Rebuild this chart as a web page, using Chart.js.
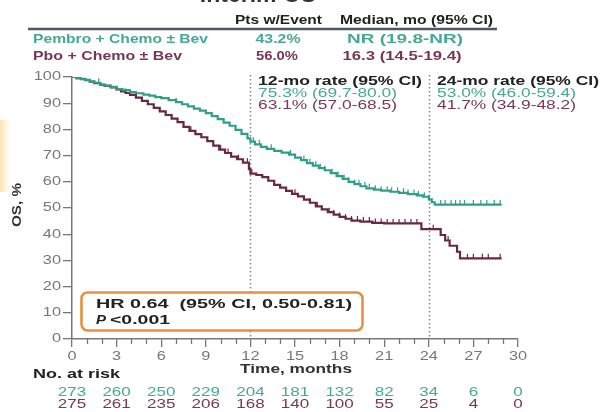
<!DOCTYPE html>
<html><head><meta charset="utf-8">
<script src="https://cdn.jsdelivr.net/npm/chart.js@4/dist/chart.umd.min.js"></script>
<style>html,body{margin:0;padding:0;background:#fff}canvas{display:block}</style>
</head><body>
<canvas id="c" width="601" height="412"></canvas>
<script>
// ---- Data ----
const pembroTimes = [0,0.3,0.6,0.9,1.2,1.5,1.9,2.2,2.6,3.0,3.4,3.9,4.3,4.8,5.2,5.6,6.0,6.5,7.0,7.4,7.8,8.2,8.6,9.0,9.4,9.8,10.2,10.6,11.0,11.4,11.8,12.0,12.3,12.7,13.1,13.6,14.1,14.6,15.0,15.4,15.8,16.2,16.6,17.0,17.4,17.8,18.2,18.6,19.0,19.4,19.8,20.3,20.8,21.4,22.0,22.6,23.2,23.6,24.0,24.2,24.4,28.9];
const pembroSurv  = [100,99.6,99.3,98.9,98.2,97.8,97.1,96.7,96.2,95.4,95.0,94.2,93.8,93.3,92.9,92.3,91.9,91.2,90.4,89.6,88.8,87.9,87.2,86.2,85.1,83.9,82.6,81.4,79.8,78.3,76.6,75.3,74.3,73.3,72.6,71.8,71.1,70.4,69.2,68.3,67.1,66.2,65.2,64.4,63.3,62.2,61.1,60.0,59.1,58.3,57.5,57.0,56.6,56.2,55.8,55.3,54.8,54.3,53.3,52.2,51.3,51.3];
const pboTimes = [0,0.3,0.6,0.9,1.2,1.5,1.9,2.2,2.6,3.0,3.3,3.6,3.9,4.3,4.7,5.1,5.5,5.9,6.3,6.7,7.1,7.5,7.9,8.3,8.7,9.1,9.5,9.9,10.3,10.7,11.1,11.5,11.9,12.0,12.4,12.8,13.2,13.6,14.0,14.4,14.8,15.2,15.6,16.0,16.4,16.8,17.2,17.6,18.0,18.4,18.8,19.4,20.2,21.0,23.5,24.8,25.1,25.4,25.9,26.1,28.9];
const pboSurv  = [100,99.6,99.2,98.8,98.2,97.7,97.0,96.6,96.0,95.3,94.5,93.9,93.2,92.1,90.9,89.6,88.2,86.9,85.5,84.1,82.8,81.0,79.4,78.2,77.0,75.5,73.8,72.3,71.0,69.6,68.6,67.3,64.8,63.1,62.6,61.8,60.4,58.8,57.8,56.5,55.4,54.4,53.2,52.0,50.6,49.5,48.4,47.5,46.6,45.9,45.2,44.8,44.3,44.1,41.9,39.7,37.6,35.6,33.3,30.8,30.8];
const pembroCensored = [1.8,7.0,12.2,12.6,13.4,14.7,15.6,16.0,16.4,16.7,17.0,17.5,17.9,18.3,18.6,19.0,19.3,19.7,20.0,20.4,20.8,21.2,21.5,21.9,22.3,22.6,23.0,23.3,23.7,24.0,24.8,25.1,25.5,25.8,26.1,26.4,27.0,27.5,27.9,28.4,28.8];
const pboCensored = [3.6,8.0,10.0,10.5,11.2,11.8,12.1,15.0,16.0,16.5,17.3,17.6,18.0,18.4,18.8,19.2,19.6,20.0,20.4,20.8,21.2,21.6,22.0,22.4,22.8,23.2,24.3,25.3,26.6,27.0,27.6,28.0,28.8];
const xTickValues = [0,3,6,9,12,15,18,21,24,27,30];
const yTickValues = [0,10,20,30,40,50,60,70,80,90,100];
const riskPembro = [273,260,250,229,204,181,132,82,34,6,0];
const riskPbo    = [275,261,235,206,168,140,100,55,25,4,0];
const rate12 = ['75.3% (69.7-80.0)','63.1% (57.0-68.5)'];
const rate24 = ['53.0% (46.0-59.4)','41.7% (34.9-48.2)'];
const legendRows = [
  ['Pembro + Chemo \u00b1 Bev','43.2%','NR (19.8-NR)'],
  ['Pbo + Chemo \u00b1 Bev','56.0%','16.3 (14.5-19.4)']
];

const TEAL = '#2f9e8c', MAROON = '#6a2744';
const TEAL_T = '#45a898', MAROON_T = '#7a3656';
const FONT = '"Liberation Sans", Arial, sans-serif';
const SX = 1.36; // horizontal stretch of the reference's lettering

function survAt(T, S, t){ let v = S[0]; for (let i=0;i<T.length;i++){ if (T[i] <= t) v = S[i]; } return v; }
const pts = (T,S) => T.map((t,i)=>({x:t,y:S[i]}));

// draw text stretched horizontally; if w given, fit to that width
function txt(ctx, s, x, y, font, color, align, w){
  ctx.save();
  ctx.font = font; ctx.fillStyle = color; ctx.textAlign = align || 'left'; ctx.textBaseline = 'middle';
  const sx = w ? w / ctx.measureText(s).width : SX;
  ctx.translate(x, y); ctx.scale(sx, 1); ctx.fillText(s, 0, 0);
  ctx.restore();
}

const overlay = {
  id:'overlay',
  beforeDatasetsDraw(chart){
    const {ctx, scales:{x,y}} = chart;
    ctx.save();
    const g = ctx.createLinearGradient(0,0,10,0);
    g.addColorStop(0,'rgba(250,210,120,0.6)'); g.addColorStop(1,'rgba(250,215,140,0)');
    ctx.fillStyle = g; ctx.fillRect(0,120,10,72);
    ctx.strokeStyle = '#8a8a8a'; ctx.lineWidth = 1.6; ctx.setLineDash([1.6,2.4]);
    [12,24].forEach(m=>{ const px = Math.round(x.getPixelForValue(m))+0.5; ctx.beginPath(); ctx.moveTo(px,75); ctx.lineTo(px,y.getPixelForValue(0)); ctx.stroke(); });
    ctx.setLineDash([]);
    ctx.restore();
  },
  afterDraw(chart){
    const {ctx, scales:{x,y}} = chart;
    const B = 'bold 12.5px '+FONT, R = '12.5px '+FONT;
    ctx.save();
    // minor x ticks
    ctx.strokeStyle = '#777'; ctx.lineWidth = 1.3;
    const y0 = y.getPixelForValue(0);
    for (let m=0;m<=30;m++){ if (m%3===0) continue; const px = Math.round(x.getPixelForValue(m))+0.5; ctx.beginPath(); ctx.moveTo(px,y0); ctx.lineTo(px,y0+5); ctx.stroke(); }
    // tick labels
    xTickValues.forEach(v=> txt(ctx, String(v), x.getPixelForValue(v), 357, '12px '+FONT, '#777', 'center'));
    yTickValues.forEach(v=> txt(ctx, String(v), 61, y.getPixelForValue(v), '12px '+FONT, '#777', 'right'));
    // title (cut off at top)
    ctx.fillStyle = '#333'; ctx.textAlign='center'; ctx.textBaseline='alphabetic';
    ctx.font = 'bold 23px '+FONT; ctx.fillText('Interim OS', 258, 2);
    // legend table
    txt(ctx, 'Pts w/Event', 235, 21, B, '#222', 'left', 87);
    txt(ctx, 'Median, mo (95% CI)', 340, 21, B, '#222', 'left', 153);
    ctx.strokeStyle = '#4d5863'; ctx.lineWidth = 2.5;
    ctx.beginPath(); ctx.moveTo(28,29); ctx.lineTo(497,29); ctx.stroke();
    const rowY = [39.5,57], cols = [TEAL_T, MAROON_T];
    const w0 = [175,149], w1 = [45,42], w2 = [116,119], c1 = [278,277], c2 = [405,402];
    legendRows.forEach((r,i)=>{
      txt(ctx, r[0], 33, rowY[i], B, cols[i], 'left', w0[i]);
      txt(ctx, r[1], c1[i], rowY[i], B, cols[i], 'center', w1[i]);
      txt(ctx, r[2], c2[i], rowY[i], B, cols[i], 'center', w2[i]);
    });
    // rate annotations
    txt(ctx, '12-mo rate (95% CI)', 258, 82, B, '#222', 'left', 164);
    txt(ctx, '24-mo rate (95% CI)', 437, 82, B, '#222', 'left', 162);
    txt(ctx, rate12[0], 258, 94, R, TEAL_T, 'left', 139);
    txt(ctx, rate24[0], 437, 94, R, TEAL_T, 'left', 139);
    txt(ctx, rate12[1], 258, 106, R, MAROON_T, 'left', 139);
    txt(ctx, rate24[1], 437, 106, R, MAROON_T, 'left', 139);
    // HR box
    ctx.fillStyle = '#fff'; ctx.strokeStyle = '#e6913f'; ctx.lineWidth = 2.6;
    ctx.beginPath(); ctx.roundRect(81.5,292.5,281,38,6); ctx.fill(); ctx.stroke();
    txt(ctx, 'HR 0.64  (95% CI, 0.50-0.81)', 96, 305, B, '#222', 'left', 256);
    txt(ctx, 'P', 96, 321, 'italic bold 12.5px '+FONT, '#222', 'left', 10);
    txt(ctx, '<0.001', 110, 321, B, '#222', 'left', 60);
    // axis titles
    txt(ctx, 'Time, months', 240, 370, B, '#333', 'left', 112);
    ctx.save(); ctx.translate(18,205); ctx.rotate(-Math.PI/2);
    txt(ctx, 'OS, %', 0, 0, B, '#333', 'center', 44);
    ctx.restore();
    // risk table
    txt(ctx, 'No. at risk', 33, 375, B, '#222', 'left', 87);
    xTickValues.forEach((m,i)=>{
      const px = x.getPixelForValue(m);
      txt(ctx, String(riskPembro[i]), px, 393, R, TEAL_T, 'center');
      txt(ctx, String(riskPbo[i]), px, 405, R, MAROON_T, 'center');
    });
    ctx.restore();
  }
};

new Chart(document.getElementById('c'), {
  type:'line',
  data:{ datasets:[
    {data: pts(pembroTimes, pembroSurv), stepped:true, borderColor:TEAL, borderWidth:2.2, pointRadius:0, fill:false},
    {data: pts(pboTimes, pboSurv), stepped:true, borderColor:MAROON, borderWidth:2.2, pointRadius:0, fill:false},
    {type:'scatter', data: pembroCensored.map(t=>({x:t,y:survAt(pembroTimes,pembroSurv,t)})), pointStyle:'dash', rotation:-90, pointRadius:4.5, borderColor:TEAL, pointBorderWidth:1.2, showLine:false},
    {type:'scatter', data: pboCensored.map(t=>({x:t,y:survAt(pboTimes,pboSurv,t)})), pointStyle:'dash', rotation:-90, pointRadius:4.5, borderColor:MAROON, pointBorderWidth:1.2, showLine:false}
  ]},
  options:{
    responsive:false, animation:false, events:[],
    layout:{padding:{left:0,top:77,right:83,bottom:0}},
    plugins:{legend:{display:false}, tooltip:{enabled:false}},
    scales:{
      x:{type:'linear', min:0, max:30,
        afterFit:s=>{s.height=73;},
        afterBuildTicks:s=>{s.ticks = xTickValues.map(v=>({value:v}));},
        ticks:{display:false},
        grid:{display:true, drawOnChartArea:false, drawTicks:true, tickLength:8, color:'#777', lineWidth:1.3},
        border:{display:true, color:'#777', width:1.5}},
      y:{min:0, max:100,
        afterFit:s=>{s.width=72;},
        afterBuildTicks:s=>{s.ticks = yTickValues.map(v=>({value:v}));},
        ticks:{display:false},
        grid:{display:true, drawOnChartArea:false, drawTicks:true, tickLength:9, color:'#777', lineWidth:1.3},
        border:{display:true, color:'#777', width:1.5}}
    }
  },
  plugins:[overlay]
});
</script>
</body></html>
